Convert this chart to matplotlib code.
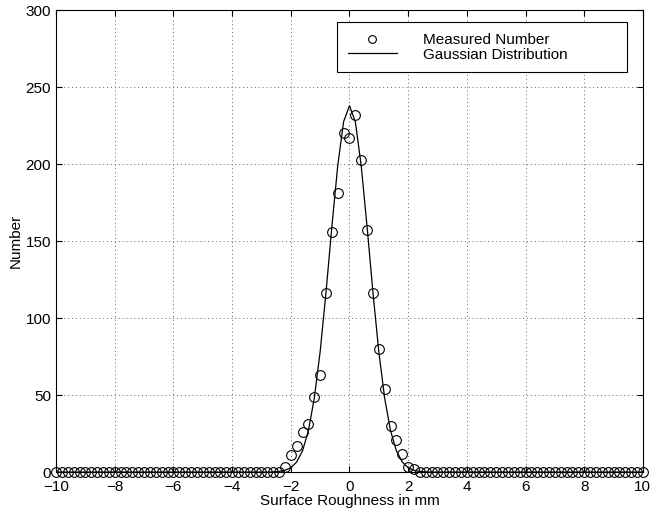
import matplotlib
matplotlib.use("Agg")
import matplotlib.pyplot as plt
import numpy as np

# roughness bins (mm), step 0.2 from -10 to 10
roughness = np.linspace(-10, 10, 101)

# measured counts, nonzero only between -2.2 and 2.2
measured_center = [3, 11, 17, 26, 31, 49, 63, 116, 156, 181, 220, 217,
                   232, 203, 157, 116, 80, 54, 30, 21, 12, 3, 2]
measured = [0] * 39 + measured_center + [0] * 39

# gaussian curve, -2.6 .. 2.6
gauss_center = [0.1, 0.4, 1.1, 2.8, 6.5, 13.8, 26.8, 47.9, 78.1, 116.7, 159.4,
                199.0, 227.6, 238.0, 227.6, 199.0, 159.4, 116.7, 78.1, 47.9,
                26.8, 13.8, 6.5, 2.8, 1.1, 0.4, 0.1]
gaussian = [0] * 37 + gauss_center + [0] * 37

plt.rcParams['font.family'] = ['Liberation Sans', 'DejaVu Sans']

fig = plt.figure(figsize=(6.52, 5.12), dpi=100)
ax = fig.add_axes([0.086, 0.078, 0.9, 0.902])

ax.plot(roughness, measured, linestyle='none', marker='o', markersize=7,
        markerfacecolor='none', markeredgecolor='black', markeredgewidth=0.8,
        label='Measured Number', clip_on=False, zorder=3)
ax.plot(roughness, gaussian, color='black', linewidth=0.9,
        label='Gaussian Distribution')

ax.set_xlim(-10, 10)
ax.set_ylim(0, 300)
ax.set_xticks(np.arange(-10, 11, 2))
ax.set_yticks(np.arange(0, 301, 50))
ax.set_xticklabels(['\u2212%d' % -v if v < 0 else '%d' % v for v in range(-10, 11, 2)])
ax.tick_params(direction='in', top=True, right=True, labelsize=11, length=4)
ax.tick_params(axis='x', pad=6)
ax.grid(True, linestyle=(0, (1, 3)), color='#666666', linewidth=0.7)
ax.set_xlabel('Surface Roughness in mm', fontsize=11, labelpad=0)
ax.set_ylabel('Number', fontsize=11, labelpad=2)

leg = ax.legend(loc='upper left', fontsize=11, fancybox=False, framealpha=1,
                edgecolor='black', handlelength=3.2, handletextpad=1.7,
                borderpad=0.7, labelspacing=0.05, mode='expand',
                borderaxespad=0, markerscale=0.8,
                bbox_to_anchor=(0.479, 0.0, 0.494, 0.974))
leg.get_frame().set_linewidth(0.8)

fig.savefig('out.png', dpi=100)
